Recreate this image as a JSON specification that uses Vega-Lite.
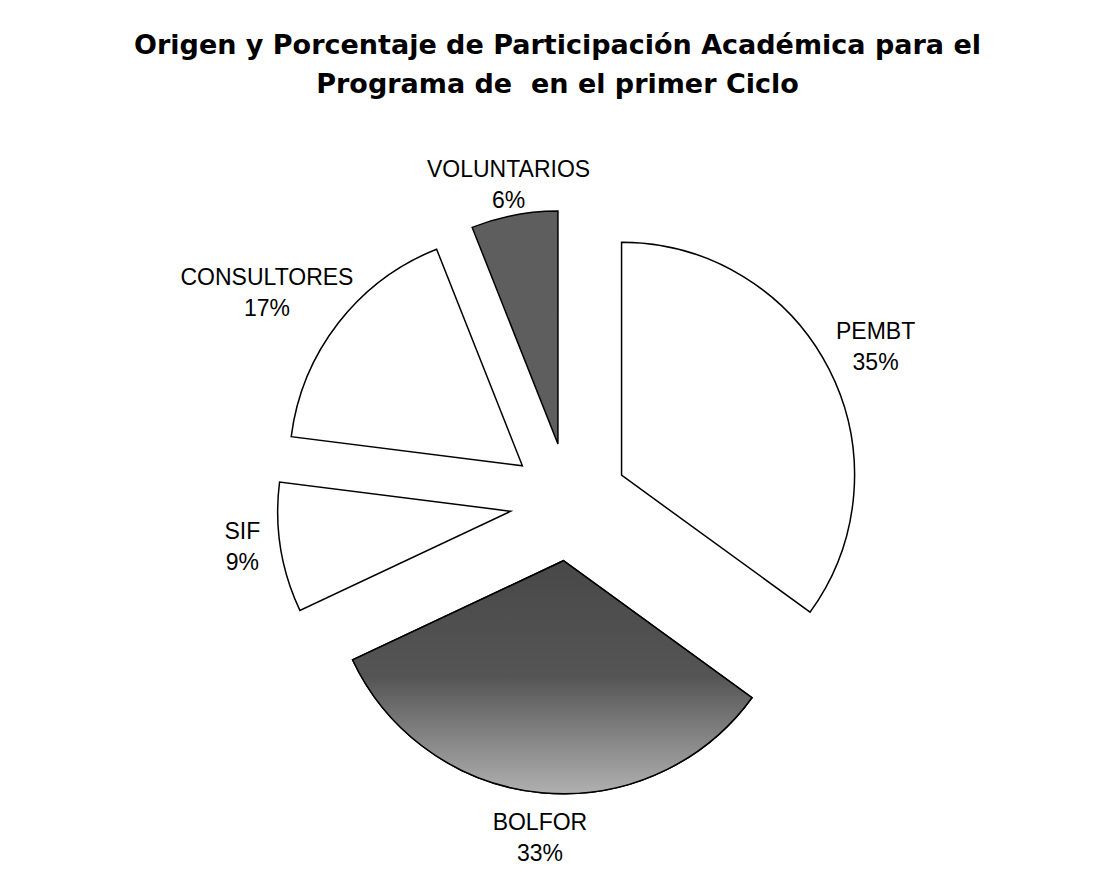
{
  "$schema": "https://vega.github.io/schema/vega-lite/v6.json",
  "width": 1105,
  "height": 888,
  "autosize": {"type": "none"},
  "padding": 0,
  "background": "white",
  "config": {"view": {"stroke": null}},
  "title": {
    "text": ["Origen y Porcentaje de Participación Académica para el", "Programa de\u00a0 en el primer Ciclo"],
    "font": "DejaVu Sans",
    "fontSize": 27,
    "fontWeight": "bold",
    "lineHeight": 39,
    "anchor": "middle",
    "offset": -99,
    "dx": 5,
    "color": "black"
  },
  "data": {
    "values": [
      {"label": "PEMBT", "pct": 35},
      {"label": "BOLFOR", "pct": 33},
      {"label": "SIF", "pct": 9},
      {"label": "CONSULTORES", "pct": 17},
      {"label": "VOLUNTARIOS", "pct": 6}
    ]
  },
  "transform": [
    {"window": [{"op": "sum", "field": "pct", "as": "cum"}], "frame": [null, 0]},
    {"calculate": "datum.cum - datum.pct", "as": "start"},
    {"calculate": "(datum.cum - datum.pct / 2) / 100 * 2 * PI", "as": "mid"},
    {"calculate": "59 * sin(datum.mid)", "as": "ox"},
    {"calculate": "59 * cos(datum.mid)", "as": "oy"},
    {"calculate": "304 * sin(datum.mid) + 9 * length(datum.label) * sin(datum.mid) * abs(sin(datum.mid))", "as": "lx"},
    {"calculate": "292 * cos(datum.mid) + (cos(datum.mid) >= 0 ? 30 * clamp(1.6 * cos(datum.mid), 0, 1) : -46 * pow(abs(cos(datum.mid)), 3))", "as": "ly"},
    {"calculate": "datum.label + '\\n' + datum.pct + '%'", "as": "txt"}
  ],
  "layer": [
    {
      "mark": {"type": "arc", "outerRadius": 233, "innerRadius": 0, "stroke": "black", "strokeWidth": 1.5},
      "encoding": {
        "x": {"field": "ox", "type": "quantitative", "scale": {"domain": [-569, 536], "nice": false, "zero": false}, "axis": null},
        "y": {"field": "oy", "type": "quantitative", "scale": {"domain": [-386, 502], "nice": false, "zero": false}, "axis": null},
        "theta": {"field": "start", "type": "quantitative", "scale": {"domain": [0, 100]}},
        "theta2": {"field": "cum"},
        "fill": {
          "field": "label",
          "type": "nominal",
          "scale": {
            "domain": ["PEMBT", "BOLFOR", "SIF", "CONSULTORES", "VOLUNTARIOS"],
            "range": ["#ffffff", "#707070", "#ffffff", "#ffffff", "#5e5e5e"]
          },
          "legend": null
        }
      }
    },
    {
      "transform": [{"filter": "datum.label == 'BOLFOR'"}],
      "mark": {
        "type": "arc",
        "outerRadius": 233,
        "innerRadius": 0,
        "stroke": "black",
        "strokeWidth": 1.5,
        "fill": {
          "gradient": "linear",
          "x1": 0, "y1": 0, "x2": 0, "y2": 1,
          "stops": [
            {"offset": 0, "color": "#484848"},
            {"offset": 0.5, "color": "#555555"},
            {"offset": 1, "color": "#b0b0b0"}
          ]
        }
      },
      "encoding": {
        "x": {"field": "ox", "type": "quantitative"},
        "y": {"field": "oy", "type": "quantitative"},
        "theta": {"field": "start", "type": "quantitative"},
        "theta2": {"field": "cum"}
      }
    },
    {
      "mark": {
        "type": "text",
        "font": "Liberation Sans",
        "fontSize": 23,
        "lineBreak": "\n",
        "lineHeight": 31,
        "align": "center",
        "baseline": "middle",
        "dy": -15.5,
        "color": "black"
      },
      "encoding": {
        "x": {"field": "lx", "type": "quantitative"},
        "y": {"field": "ly", "type": "quantitative"},
        "text": {"field": "txt", "type": "nominal"}
      }
    }
  ]
}
